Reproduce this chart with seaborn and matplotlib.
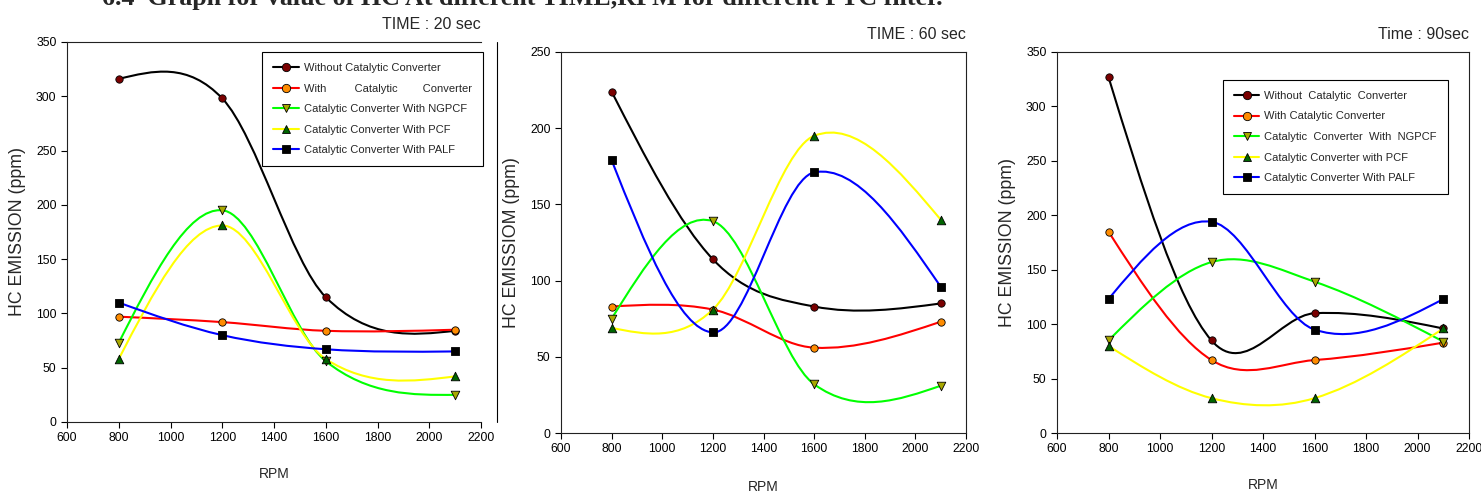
import numpy as np
import matplotlib
matplotlib.use("Agg")
import matplotlib.pyplot as plt
from matplotlib.path import Path
from matplotlib.patches import PathPatch
from matplotlib.lines import Line2D
import seaborn as sns

# data (HC emission in ppm)
rpm = [800, 1200, 1600, 2100]

hc_20s_without = [316, 298, 115, 84]
hc_20s_with = [97, 92, 84, 85]
hc_20s_ngpcf = [73, 195, 56, 25]
hc_20s_pcf = [58, 181, 58, 42]
hc_20s_palf = [110, 80, 67, 65]

hc_60s_without = [224, 114, 83, 85]
hc_60s_with = [83, 81, 56, 73]
hc_60s_ngpcf = [75, 139, 32, 31]
hc_60s_pcf = [69, 81, 195, 140]
hc_60s_palf = [179, 66, 171, 96]

hc_90s_without = [327, 85, 110, 96]
hc_90s_with = [185, 67, 67, 83]
hc_90s_ngpcf = [85, 157, 139, 84]
hc_90s_pcf = [80, 32, 32, 96]
hc_90s_palf = [123, 194, 95, 123]

labels_20s = ["Without Catalytic Converter",
              "With         Catalytic        Converter",
              "Catalytic Converter With NGPCF",
              "Catalytic Converter With PCF",
              "Catalytic Converter With PALF"]
labels_90s = ["Without  Catalytic  Converter",
              "With Catalytic Converter",
              "Catalytic  Converter  With  NGPCF",
              "Catalytic Converter with PCF",
              "Catalytic Converter With PALF"]

line_colors = ["black", "#ff0000", "#00ff00", "#ffff00", "#0000ff"]
face_colors = ["#7a0000", "#ff8c00", "#a8a800", "#006400", "black"]
markers = ["o", "o", "v", "^", "s"]
marker_sizes = [28, 28, 38, 38, 40]


def smooth_path(x, y):
    # hermite spline (central-difference tangents, natural ends) as bezier segments
    x = np.asarray(x, float)
    y = np.asarray(y, float)
    n = len(x)
    h = np.diff(x)
    d = np.diff(y) / h
    m = np.zeros(n)
    for i in range(1, n - 1):
        m[i] = (y[i + 1] - y[i - 1]) / (x[i + 1] - x[i - 1])
    m[0] = (3 * d[0] - m[1]) / 2
    m[-1] = (3 * d[-1] - m[-2]) / 2
    verts = [(x[0], y[0])]
    codes = [Path.MOVETO]
    for i in range(n - 1):
        verts += [(x[i] + h[i] / 3, y[i] + m[i] * h[i] / 3),
                  (x[i + 1] - h[i] / 3, y[i + 1] - m[i + 1] * h[i] / 3),
                  (x[i + 1], y[i + 1])]
        codes += [Path.CURVE4] * 3
    return Path(verts, codes)


sns.set_style("ticks")
plt.rcParams['font.family'] = ['Liberation Sans', 'DejaVu Sans']

W, H = 1481, 494
fig = plt.figure(figsize=(W / 100, H / 100), dpi=100)


def px_axes(left, top, right, bottom):
    return fig.add_axes([left / W, 1 - bottom / H, (right - left) / W, (bottom - top) / H])


panels = [
    dict(box=(67, 42, 481, 422), data=[hc_20s_without, hc_20s_with, hc_20s_ngpcf, hc_20s_pcf, hc_20s_palf],
         ymax=350, title="TIME : 20 sec", ylabel="HC EMISSION (ppm)", legend=labels_20s,
         anchor=(1.005, 0.974), right_spine=False, xlab_y=-0.118),
    dict(box=(561, 52, 966, 433), data=[hc_60s_without, hc_60s_with, hc_60s_ngpcf, hc_60s_pcf, hc_60s_palf],
         ymax=250, title="TIME : 60 sec", ylabel="HC EMISSIOM (ppm)", legend=None,
         anchor=None, right_spine=True, xlab_y=-0.123),
    dict(box=(1057, 52, 1469, 433), data=[hc_90s_without, hc_90s_with, hc_90s_ngpcf, hc_90s_pcf, hc_90s_palf],
         ymax=350, title="Time : 90sec", ylabel="HC EMISSION (ppm)", legend=labels_90s,
         anchor=(0.949, 0.927), right_spine=True, xlab_y=-0.118),
]

for p in panels:
    ax = px_axes(*p["box"])
    for k, vals in enumerate(p["data"]):
        ax.add_patch(PathPatch(smooth_path(rpm, vals), fc="none", ec=line_colors[k], lw=1.5, zorder=2))
        sns.scatterplot(x=rpm, y=vals, ax=ax, marker=markers[k], s=marker_sizes[k],
                        color=face_colors[k], edgecolor="black", linewidth=0.6, zorder=3, legend=False)
    ax.set_xlim(600, 2200)
    ax.set_ylim(0, p["ymax"])
    ax.set_xticks(range(600, 2201, 200))
    ax.set_yticks(range(0, p["ymax"] + 1, 50))
    ax.tick_params(direction="out", length=4, width=0.8, labelsize=8.8, colors="black")
    for s in ax.spines.values():
        s.set_linewidth(0.8)
        s.set_color("#222222")
    ax.spines["right"].set_visible(p["right_spine"])
    ax.set_xlabel("RPM", fontsize=10)
    ax.set_ylabel(p["ylabel"], fontsize=12.8)
    ax.xaxis.set_label_coords(0.5, p["xlab_y"])
    ax.yaxis.set_label_coords(-0.10, 0.5)
    ax.set_title(p["title"], loc="right", fontsize=11.5, pad=9.5)
    if p["legend"]:
        handles = [Line2D([], [], color=line_colors[k], lw=1.5, marker=markers[k],
                          markerfacecolor=face_colors[k], markeredgecolor="black",
                          markeredgewidth=0.6, markersize=6) for k in range(5)]
        leg = ax.legend(handles, p["legend"], loc="upper right", bbox_to_anchor=p["anchor"],
                        fontsize=8.0, frameon=True, fancybox=False, edgecolor="black",
                        handlelength=2.3, labelspacing=0.95, borderpad=1.0,
                        handletextpad=0.45, borderaxespad=0)
        leg.get_frame().set_linewidth(0.8)
        leg.get_frame().set_alpha(1)

# stray divider line from the source page
fig.add_artist(Line2D([497 / W, 497 / W], [1 - 42 / H, 1 - 422 / H], transform=fig.transFigure,
                      color="black", lw=0.8))

# page heading, cut off at the top in the source
fig.text(102 / W, 1 - 5 / H, "6.4  Graph for value of HC At different TIME,RPM for different PTC filter.",
         family="Liberation Serif", fontweight="bold", fontsize=18.7, va="baseline", ha="left")

fig.savefig("out.png", dpi=100)
